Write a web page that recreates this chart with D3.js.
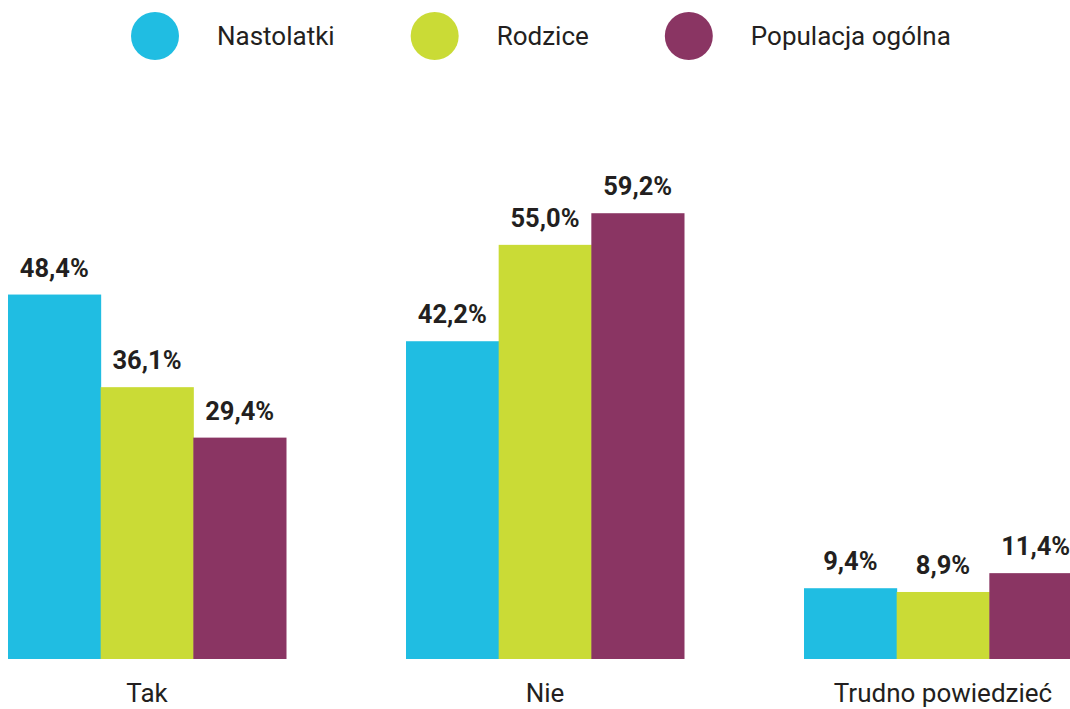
<!DOCTYPE html>
<html>
<head>
    <meta charset="utf-8" />
    <title>Nastolatki / Rodzice / Populacja</title>
    <style>
        html, body { margin: 0; padding: 0; background: #fff; }
        svg { display: block; font-family: Roboto, "Noto Sans", sans-serif; }
        .val { font-weight: 700; fill: #231f20; }
        .cat, .leg { fill: #231f20; }
    </style>
</head>
<body>
    <script src="https://cdn.jsdelivr.net/npm/d3@7/dist/d3.min.js"></script>
    <script>
    // dane
    var categories = ["Tak", "Nie", "Trudno powiedzieć"];
    var seriesNames = ["Nastolatki", "Rodzice", "Populacja ogólna"];
    var nastolatki = [48.4, 42.2, 9.4];
    var rodzice = [36.1, 55.0, 8.9];
    var populacja = [29.4, 59.2, 11.4];
    var colors = ["#20bde2", "#cadb36", "#8a3563"];

    var width = 1070,
        height = 709,
        baseline = 659;

    var seriesValues = [nastolatki, rodzice, populacja];

    var svg = d3.select("body").append("svg")
        .attr("width", width)
        .attr("height", height);

    var x0 = d3.scaleBand()
        .domain(categories)
        .range([8, 8 + 3 * 398 - 120])
        .paddingInner(120 / 398)
        .paddingOuter(0);

    var x1 = d3.scaleBand()
        .domain(seriesNames)
        .range([0, x0.bandwidth()]);

    var y = d3.scaleLinear()
        .domain([0, 60])
        .range([baseline, baseline - 60 * 7.53]);

    var rows = categories.map(function(c, i){
        return {
            cat: c,
            vals: seriesNames.map(function(s, j){
                return {name: s, value: seriesValues[j][i], color: colors[j]};
            })
        };
    });

    var groups = svg.selectAll("g.group")
        .data(rows)
      .enter().append("g")
        .attr("class", "group")
        .attr("transform", function(d){ return "translate(" + x0(d.cat) + ",0)"; });

    groups.selectAll("rect")
        .data(function(d){ return d.vals; })
      .enter().append("rect")
        .attr("x", function(d){ return x1(d.name); })
        .attr("y", function(d){ return y(d.value); })
        .attr("width", x1.bandwidth() + 0.5)
        .attr("height", function(d){ return baseline - y(d.value); })
        .attr("fill", function(d){ return d.color; });

    groups.selectAll("text.val")
        .data(function(d){ return d.vals; })
      .enter().append("text")
        .attr("class", "val")
        .attr("x", function(d){ return x1(d.name) + x1.bandwidth() / 2; })
        .attr("y", function(d){ return y(d.value) - 18; })
        .attr("text-anchor", "middle")
        .style("font-size", "25.5px")
        .text(function(d){ return d.value.toFixed(1).replace(".", ",") + "%"; });

    groups.append("text")
        .attr("class", "cat")
        .attr("x", x0.bandwidth() / 2)
        .attr("y", 702)
        .attr("text-anchor", "middle")
        .style("font-size", "26px")
        .text(function(d){ return d.cat; });

    // legenda
    var legX = 131;
    seriesNames.forEach(function(name, i){
        var g = svg.append("g").attr("class", "legend");
        g.append("circle")
            .attr("cx", legX + 24)
            .attr("cy", 36)
            .attr("r", 24)
            .attr("fill", colors[i]);
        var t = g.append("text")
            .attr("class", "leg")
            .attr("x", legX + 86)
            .attr("y", 45)
            .style("font-size", "26px")
            .text(name);
        legX = legX + 86 + t.node().getComputedTextLength() + 76;
    });
    </script>
</body>
</html>
